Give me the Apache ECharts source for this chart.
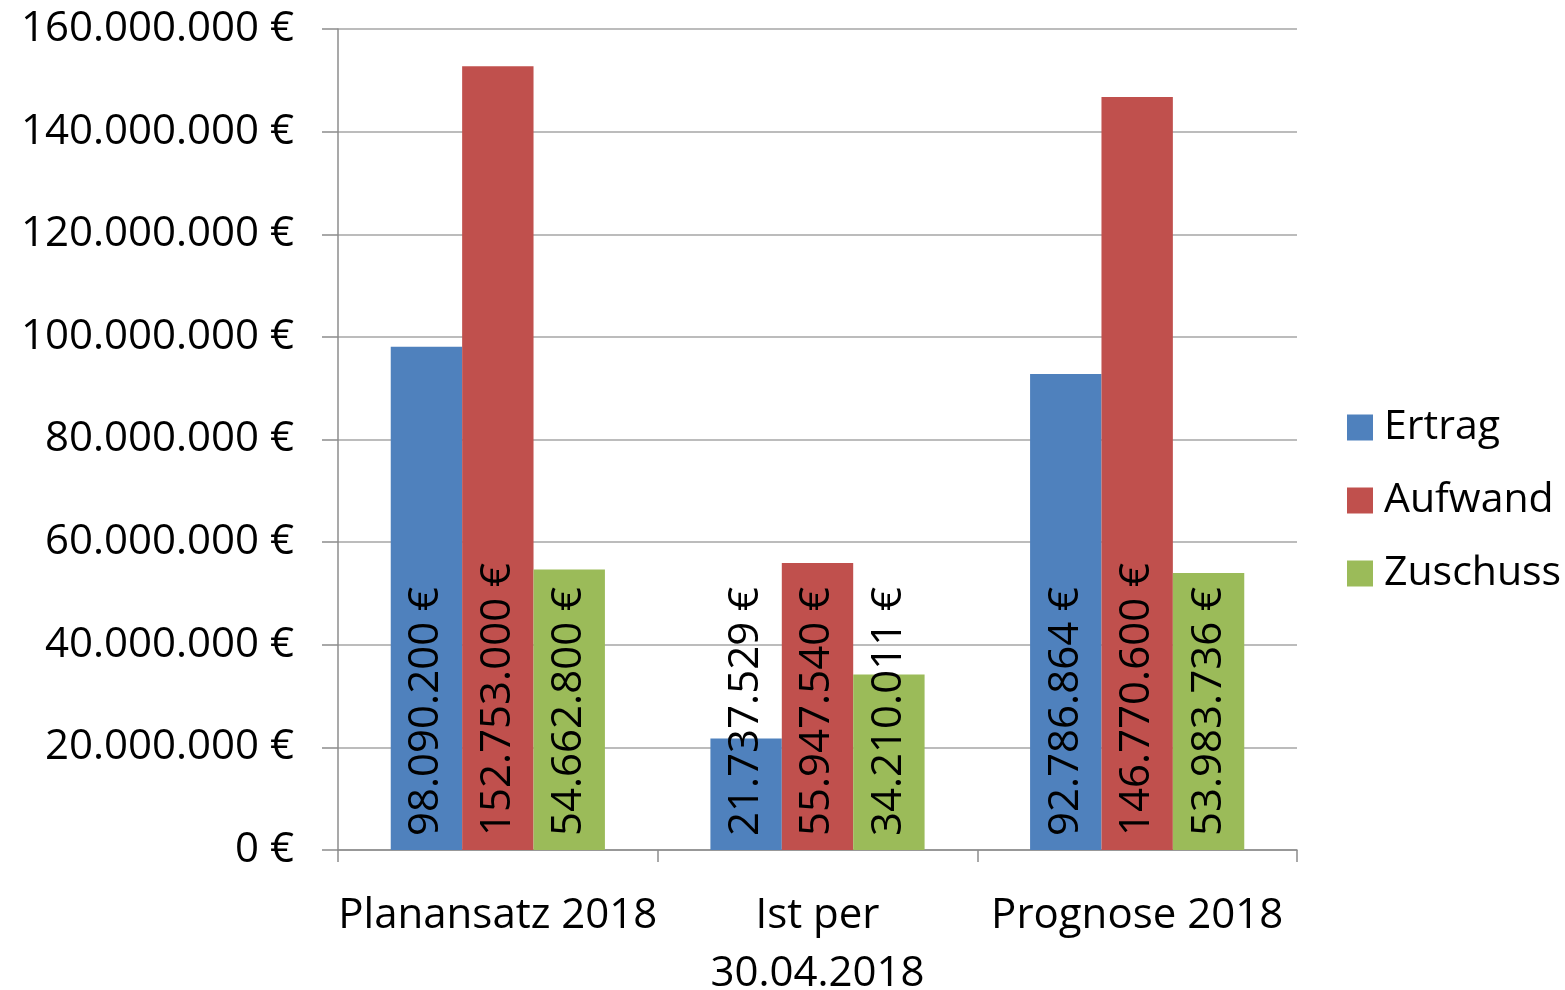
<!DOCTYPE html>
<html>
<head>
<meta charset="utf-8">
<script src="https://cdn.jsdelivr.net/npm/echarts@6/dist/echarts.min.js"></script>
<style>
  html, body { margin: 0; padding: 0; background: #fff; }
  #chart { width: 1565px; height: 990px; }
</style>
</head>
<body>
<div id="chart"></div>
<script>
var categories = ['Planansatz 2018', 'Ist per\n30.04.2018', 'Prognose 2018'];
var ertrag = [98090200, 21737529, 92786864];
var aufwand = [152753000, 55947540, 146770600];
var zuschuss = [54662800, 34210011, 53983736];
var seriesNames = ['Ertrag', 'Aufwand', 'Zuschuss'];
var yMin = 0, yMax = 160000000, yStep = 20000000;

var font = '"Open Sans", sans-serif';
var colors = ['#4F81BD', '#C0504D', '#9BBB59'];

function euro(v) {
  return String(Math.round(v)).replace(/\B(?=(\d{3})+(?!\d))/g, '.') + ' €';
}

var barLabel = {
  show: true,
  position: 'insideBottom',
  rotate: 90,
  align: 'left',
  verticalAlign: 'middle',
  distance: 14,
  color: '#000',
  fontFamily: font,
  fontSize: 42,
  formatter: function(p) { return euro(p.value); }
};

var chart = echarts.init(document.getElementById('chart'), null, { renderer: 'canvas' });
chart.setOption({
  animation: false,
  backgroundColor: '#fff',
  color: colors,
  grid: { left: 338, right: 268, top: 29, bottom: 140, outerBoundsMode: 'none', containLabel: false },
  legend: {
    orient: 'vertical',
    left: 1347,
    top: 407,
    padding: 0,
    itemWidth: 26,
    itemHeight: 26,
    itemGap: 32,
    icon: 'rect',
    textStyle: { fontFamily: font, fontSize: 41, color: '#000', padding: [0, 0, 0, 6] },
    data: seriesNames
  },
  xAxis: {
    type: 'category',
    data: categories,
    axisLine: { lineStyle: { color: '#8c8c8c', width: 1.5 } },
    axisTick: { show: true, length: 12, lineStyle: { color: '#8c8c8c', width: 1.5 } },
    axisLabel: { color: '#000', fontFamily: font, fontSize: 42, lineHeight: 58, margin: 37, interval: 0 }
  },
  yAxis: {
    type: 'value',
    min: yMin,
    max: yMax,
    interval: yStep,
    axisLine: { show: true, lineStyle: { color: '#8c8c8c', width: 1.5 } },
    axisTick: { show: true, length: 16, lineStyle: { color: '#8c8c8c', width: 1.5 } },
    axisLabel: { color: '#000', fontFamily: font, fontSize: 42, margin: 44, formatter: euro },
    splitLine: { lineStyle: { color: '#a6a6a6', width: 1.5 } }
  },
  series: [
    { name: seriesNames[0], type: 'bar', data: ertrag, barGap: '0%', barCategoryGap: '33%', label: barLabel },
    { name: seriesNames[1], type: 'bar', data: aufwand, label: barLabel },
    { name: seriesNames[2], type: 'bar', data: zuschuss, label: barLabel }
  ]
});
window.addEventListener('resize', function() { chart.resize(); });
</script>
</body>
</html>
